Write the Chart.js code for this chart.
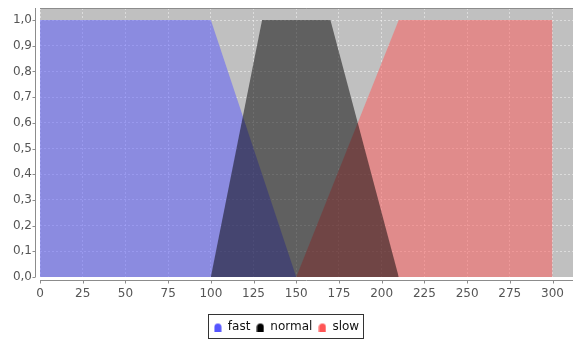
<!DOCTYPE html>
<html><head><meta charset="utf-8">
<script src="https://cdn.jsdelivr.net/npm/chart.js@4/dist/chart.umd.min.js"></script>
<style>html,body{margin:0;padding:0;background:#fff}#wrap{width:574px;height:339px}</style>
</head><body><div id="wrap"><canvas id="c" width="574" height="339"></canvas></div>
<script>
const seriesNames = ['fast', 'normal', 'slow'];
const fastX = [0, 100, 150];
const fastY = [1, 1, 0];
const normalX = [100, 130, 170, 210];
const normalY = [0, 1, 1, 0];
const slowX = [150, 210, 300, 300];
const slowY = [0, 1, 1, 0];
const xTicks = [0, 25, 50, 75, 100, 125, 150, 175, 200, 225, 250, 275, 300];
const yTicks = [0, 0.1, 0.2, 0.3, 0.4, 0.5, 0.6, 0.7, 0.8, 0.9, 1.0];

const fills = ['rgba(85,85,255,0.5)', 'rgba(0,0,0,0.5)', 'rgba(255,85,85,0.5)'];
const solid = ['#5555ff', '#000000', '#ff5555'];
const drawOrder = [3, 1, 2];

function icon(col) {
  const c = document.createElement('canvas');
  c.width = 8; c.height = 9;
  const g = c.getContext('2d');
  g.fillStyle = col;
  g.beginPath();
  g.moveTo(0.5, 9); g.lineTo(0.5, 4.5);
  g.arc(4, 4.5, 3.5, Math.PI, 0);
  g.lineTo(7.5, 9); g.closePath(); g.fill();
  return c;
}
const icons = solid.map(icon);

function pts(xs, ys) { return xs.map((x, i) => ({x: x, y: ys[i]})); }
const dataSets = [pts(fastX, fastY), pts(normalX, normalY), pts(slowX, slowY)];

const bgPlugin = {
  id: 'bg',
  beforeDraw(chart) {
    const a = chart.chartArea, ctx = chart.ctx;
    ctx.save();
    ctx.fillStyle = '#c0c0c0';
    ctx.fillRect(a.left, a.top, a.right - a.left, a.bottom - a.top);
    ctx.restore();
  },
  afterDraw(chart) {
    const a = chart.chartArea, ctx = chart.ctx;
    const xs = chart.scales.x, ys = chart.scales.y;
    ctx.save();
    ctx.strokeStyle = '#8c8c8c';
    ctx.lineWidth = 1;
    ctx.beginPath();
    ctx.moveTo(a.left, a.top + 0.5); ctx.lineTo(a.right, a.top + 0.5);
    const lx = Math.round(a.left) - 4.5;
    ctx.moveTo(lx, a.top); ctx.lineTo(lx, a.bottom);
    yTicks.forEach(v => { const py = Math.round(ys.getPixelForValue(v)) + 0.5; ctx.moveTo(lx, py); ctx.lineTo(lx - 3, py); });
    const by = Math.round(a.bottom) + 3.5;
    ctx.moveTo(a.left, by); ctx.lineTo(a.right, by);
    xTicks.forEach(v => { const px = Math.round(xs.getPixelForValue(v)) + 0.5; ctx.moveTo(px, by); ctx.lineTo(px, by + 3); });
    ctx.stroke();
    const lg = chart.legend;
    if (lg && lg.legendHitBoxes && lg.legendHitBoxes.length) {
      let l = Infinity, r = -Infinity, t = Infinity, b = -Infinity;
      lg.legendHitBoxes.forEach(h => { l = Math.min(l, h.left); r = Math.max(r, h.left + h.width); t = Math.min(t, h.top); b = Math.max(b, h.top + h.height); });
      const cy = Math.round((t + b) / 2);
      ctx.strokeStyle = '#333';
      ctx.strokeRect(Math.round(l) - 5.5, cy - 12.5, Math.round(r - l) + 10, 24);
    }
    ctx.restore();
  }
};

new Chart(document.getElementById('c'), {
  type: 'line',
  data: {
    datasets: seriesNames.map((n, i) => ({
      label: n,
      data: dataSets[i],
      order: drawOrder[i],
      fill: 'origin',
      backgroundColor: fills[i],
      borderWidth: 0,
      borderColor: 'rgba(0,0,0,0)',
      pointRadius: 0,
      tension: 0
    }))
  },
  options: {
    responsive: false,
    animation: false,
    layout: { padding: { top: 8, right: 1, bottom: -4, left: 0 } },
    plugins: {
      tooltip: { enabled: false },
      legend: {
        position: 'bottom',
        labels: {
          usePointStyle: true,
          boxWidth: 8, boxHeight: 9,
          padding: 6,
          color: '#111',
          font: { family: 'DejaVu Sans', size: 12 },
          generateLabels(chart) {
            return seriesNames.map((n, i) => ({
              text: n, pointStyle: icons[i], fillStyle: solid[i],
              strokeStyle: solid[i], lineWidth: 0, hidden: false, datasetIndex: i, fontColor: '#111'
            }));
          }
        }
      }
    },
    scales: {
      x: {
        type: 'linear', min: 0, max: 312,
        afterBuildTicks(s) { s.ticks = xTicks.map(v => ({value: v})); },
        afterFit(s) { s.height = 38; s.paddingLeft = 0; s.paddingRight = 0; },
        grid: { color: 'rgba(255,255,255,0.45)', drawTicks: false },
        border: { display: false, dash: [2, 2] },
        ticks: { padding: 10, color: '#555', font: { family: 'DejaVu Sans', size: 12 }, maxRotation: 0,
          callback: v => String(v) }
      },
      y: {
        type: 'linear', min: 0, max: 1.047,
        afterBuildTicks(s) { s.ticks = yTicks.map(v => ({value: v})); },
        afterFit(s) { s.width = 40; s.paddingTop = 0; s.paddingBottom = 0; },
        grid: { color: 'rgba(255,255,255,0.45)', drawTicks: false },
        border: { display: false, dash: [2, 2] },
        ticks: { padding: 8, color: '#555', font: { family: 'DejaVu Sans', size: 12 },
          callback: v => v.toFixed(1).replace('.', ',') }
      }
    }
  },
  plugins: [bgPlugin]
});
</script></body></html>
